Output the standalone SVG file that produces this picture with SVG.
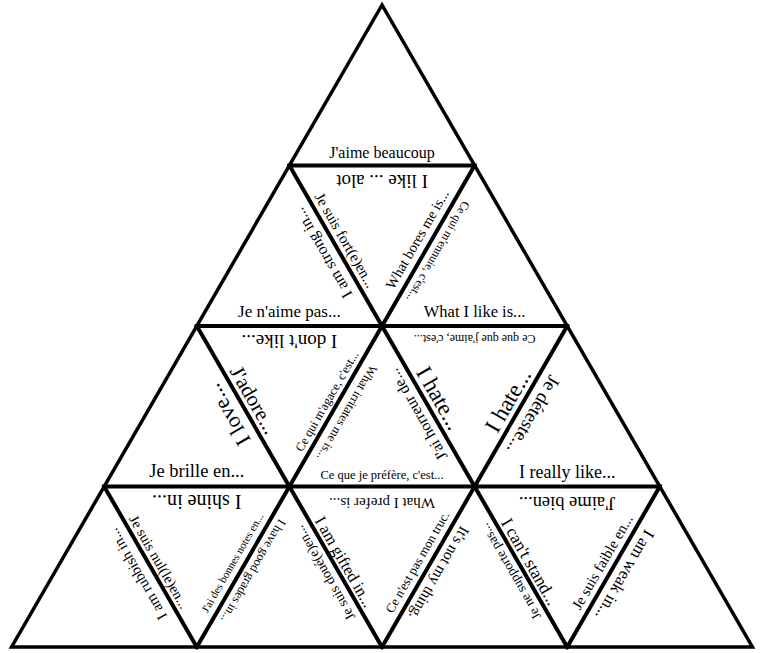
<svg xmlns="http://www.w3.org/2000/svg" width="763" height="653" viewBox="0 0 763 653">
<style>
text{font-family:"Liberation Serif","Times New Roman",serif;fill:#000;text-anchor:middle}
.ln{stroke:#000;stroke-width:4;fill:none;stroke-linecap:square}
.outer{stroke:#000;stroke-width:3.5;fill:#fff;stroke-linejoin:miter}
</style>
<rect width="763" height="653" fill="#fff"/>
<g id="connectors">
<polygon class="outer" points="382,5 11.6,647 752.4,647"/>
<line class="ln" x1="289.4" y1="165.5" x2="474.6" y2="165.5"/>
<line class="ln" x1="196.8" y1="326" x2="567.2" y2="326"/>
<line class="ln" x1="104.2" y1="486.5" x2="659.8" y2="486.5"/>
<line class="ln" x1="289.4" y1="165.5" x2="567.2" y2="647"/>
<line class="ln" x1="196.8" y1="326" x2="382" y2="647"/>
<line class="ln" x1="104.2" y1="486.5" x2="196.8" y2="647"/>
<line class="ln" x1="474.6" y1="165.5" x2="196.8" y2="647"/>
<line class="ln" x1="567.2" y1="326" x2="382" y2="647"/>
<line class="ln" x1="659.8" y1="486.5" x2="567.2" y2="647"/>
</g>
<g id="t1">
<text transform="translate(382,165.5)" y="-8" font-size="16">J'aime beaucoup</text>
</g>
<g id="t2-left">
<text transform="translate(335.7,245.75) rotate(-120)" y="-9.5" font-size="16">I am strong in...</text>
<text transform="translate(289.4,326)" y="-9" font-size="17">Je n'aime pas...</text>
</g>
<g id="t2-mid">
<text transform="translate(382,165.5) rotate(180)" y="-9.5" font-size="19">I like ... alot</text>
<text transform="translate(335.7,245.75) rotate(60)" y="-6" font-size="15">Je suis fort(e)en...</text>
<text transform="translate(428.3,245.75) rotate(-60)" y="-8" font-size="14.5">What bores me is...</text>
</g>
<g id="t2-right">
<text transform="translate(428.3,245.75) rotate(120)" y="-7.5" font-size="12">Ce qui m'ennuie, c'est...</text>
<text transform="translate(474.6,326)" y="-9" font-size="16.5">What I like is...</text>
</g>
<g id="t3-a">
<text transform="translate(243.1,406.25) rotate(-120)" y="-10" font-size="22">I love...</text>
<text transform="translate(196.8,486.5)" y="-10" font-size="18.5">Je brille en...</text>
</g>
<g id="t3-d">
<text transform="translate(289.4,326) rotate(180)" y="-9" font-size="19">I don't like...</text>
<text transform="translate(243.1,406.25) rotate(60)" y="-5.5" font-size="21">J'adore...</text>
<text transform="translate(335.7,406.25) rotate(-60)" y="-6" font-size="12.5">Ce qui m'agace, c'est...</text>
</g>
<g id="t3-b">
<text transform="translate(335.7,406.25) rotate(120)" y="-9" font-size="12.5">What irritates me is...</text>
<text transform="translate(428.3,406.25) rotate(-120)" x="-2" y="-8" font-size="16">J'ai horreur de...</text>
<text transform="translate(382,486.5)" y="-8" font-size="12.5">Ce que je préfère, c'est...</text>
</g>
<g id="t3-e">
<text transform="translate(474.6,326) rotate(180)" y="-9" font-size="12">Ce que que j'aime, c'est...</text>
<text transform="translate(428.3,406.25) rotate(60)" x="-1.5" y="-6" font-size="23">I hate...</text>
<text transform="translate(520.9,406.25) rotate(-60)" x="-1.5" y="-6.5" font-size="23">I hate...</text>
</g>
<g id="t3-c">
<text transform="translate(520.9,406.25) rotate(120)" x="1" y="-9" font-size="19">Je déteste...</text>
<text transform="translate(567.2,486.5)" y="-9" font-size="18">I really like...</text>
</g>
<g id="t4-f">
<text transform="translate(150.5,566.75) rotate(-120)" y="-10" font-size="15">I am rubbish in...</text>
</g>
<g id="t4-j">
<text transform="translate(196.8,486.5) rotate(180)" y="-8.5" font-size="20">I shine in...</text>
<text transform="translate(150.5,566.75) rotate(60)" y="-5" font-size="14.5">Je suis nul(le)en...</text>
<text transform="translate(243.1,566.75) rotate(-60)" x="-2" y="-7.5" font-size="11">J'ai des bonnes notes en...</text>
</g>
<g id="t4-g">
<text transform="translate(243.1,566.75) rotate(120)" x="-1.5" y="-7" font-size="12.5">I have good grades in...</text>
<text transform="translate(335.7,566.75) rotate(-120)" y="-8" font-size="14">Je suis doué(e)en...</text>
</g>
<g id="t4-k">
<text transform="translate(382,486.5) rotate(180)" y="-11" font-size="15">What I prefer is...</text>
<text transform="translate(335.7,566.75) rotate(60)" y="-4.5" font-size="16.5">I am gifted in...</text>
<text transform="translate(428.3,566.75) rotate(-60)" x="-1.5" y="-7.5" font-size="13">Ce n'est pas mon truc.</text>
</g>
<g id="t4-h">
<text transform="translate(428.3,566.75) rotate(120)" y="-7.5" font-size="15.5">It's not my thing.</text>
<text transform="translate(520.9,566.75) rotate(-120)" x="1" y="-7" font-size="13.5">Je ne supporte pas...</text>
</g>
<g id="t4-l">
<text transform="translate(567.2,486.5) rotate(180)" y="-10" font-size="18.5">J'aime bien...</text>
<text transform="translate(520.9,566.75) rotate(60)" y="-4.5" font-size="17.5">I can't stand...</text>
<text transform="translate(613.5,566.75) rotate(-60)" x="-1.5" y="-7" font-size="15">Je suis faible en...</text>
</g>
<g id="t4-i">
<text transform="translate(613.5,566.75) rotate(120)" x="1.5" y="-8.5" font-size="17">I am weak in...</text>
</g>
</svg>
